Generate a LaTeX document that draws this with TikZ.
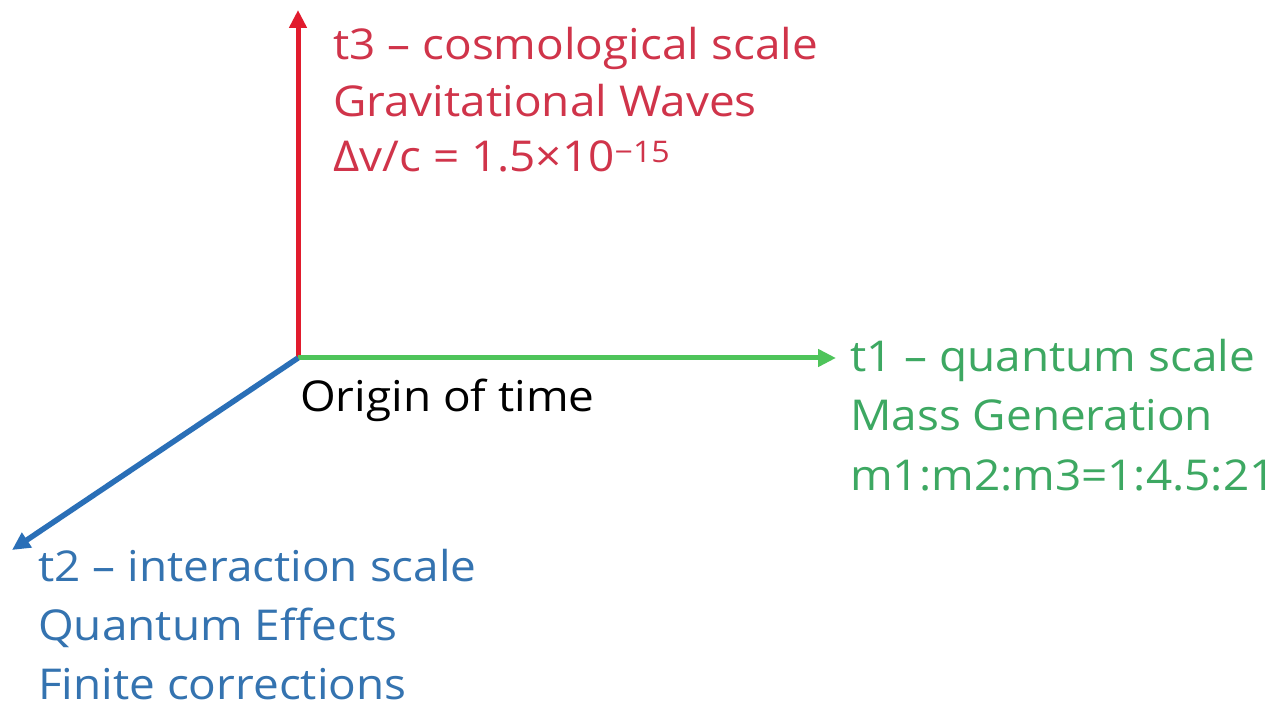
\documentclass[tikz,border=0pt]{standalone}
\usepackage{fontspec}
\setmainfont[FakeStretch=1.08]{Open Sans}
\usetikzlibrary{arrows.meta}
\definecolor{axred}{HTML}{E11B2D}
\definecolor{txred}{HTML}{D0344A}
\definecolor{axgreen}{HTML}{4EC45A}
\definecolor{txgreen}{HTML}{3DA862}
\definecolor{axblue}{HTML}{2A6FB7}
\definecolor{txblue}{HTML}{3473B0}
\begin{document}
\begin{tikzpicture}[x=1pt,y=1pt,
  lbl/.style={anchor=base west,inner sep=0pt,font=\fontsize{42.5}{50}\selectfont},
  axis/.style={line width=5pt,-{Triangle[length=18pt,width=17pt]}}]
\useasboundingbox[fill=white] (0,0) rectangle (1280,720);
\coordinate (O) at (298,362);
\coordinate (T3) at (298,710);
\coordinate (T1) at (836,362);
\coordinate (T2) at (12,170);
\draw[axis,axred] (O) -- (T3);
\draw[axis,axgreen] (O) -- (T1);
\draw[axis,axblue,line width=5.5pt] (O) -- (T2);
\node[lbl,txred] (r1) at (333,660) {t3 – cosmological scale};
\node[lbl,txred] (r2) at (333,603) {Gravitational Waves};
\node[lbl,txred] (r3) at (333,548) {Δv/c = 1.5×10\textsuperscript{−15}};
\node[lbl,txgreen] (g1) at (850,348) {t1 – quantum scale};
\node[lbl,txgreen] (g2) at (850,289) {Mass Generation};
\node[lbl,txgreen] (g3) at (850,229) {m1:m2:m3=1:4.5:21};
\node[lbl,black] (o) at (300,308) {Origin of time};
\node[lbl,txblue] (b1) at (38,138) {t2 – interaction scale};
\node[lbl,txblue] (b2) at (38,79) {Quantum Effects};
\node[lbl,txblue] (b3) at (38,20) {Finite corrections};
\end{tikzpicture}
\end{document}
